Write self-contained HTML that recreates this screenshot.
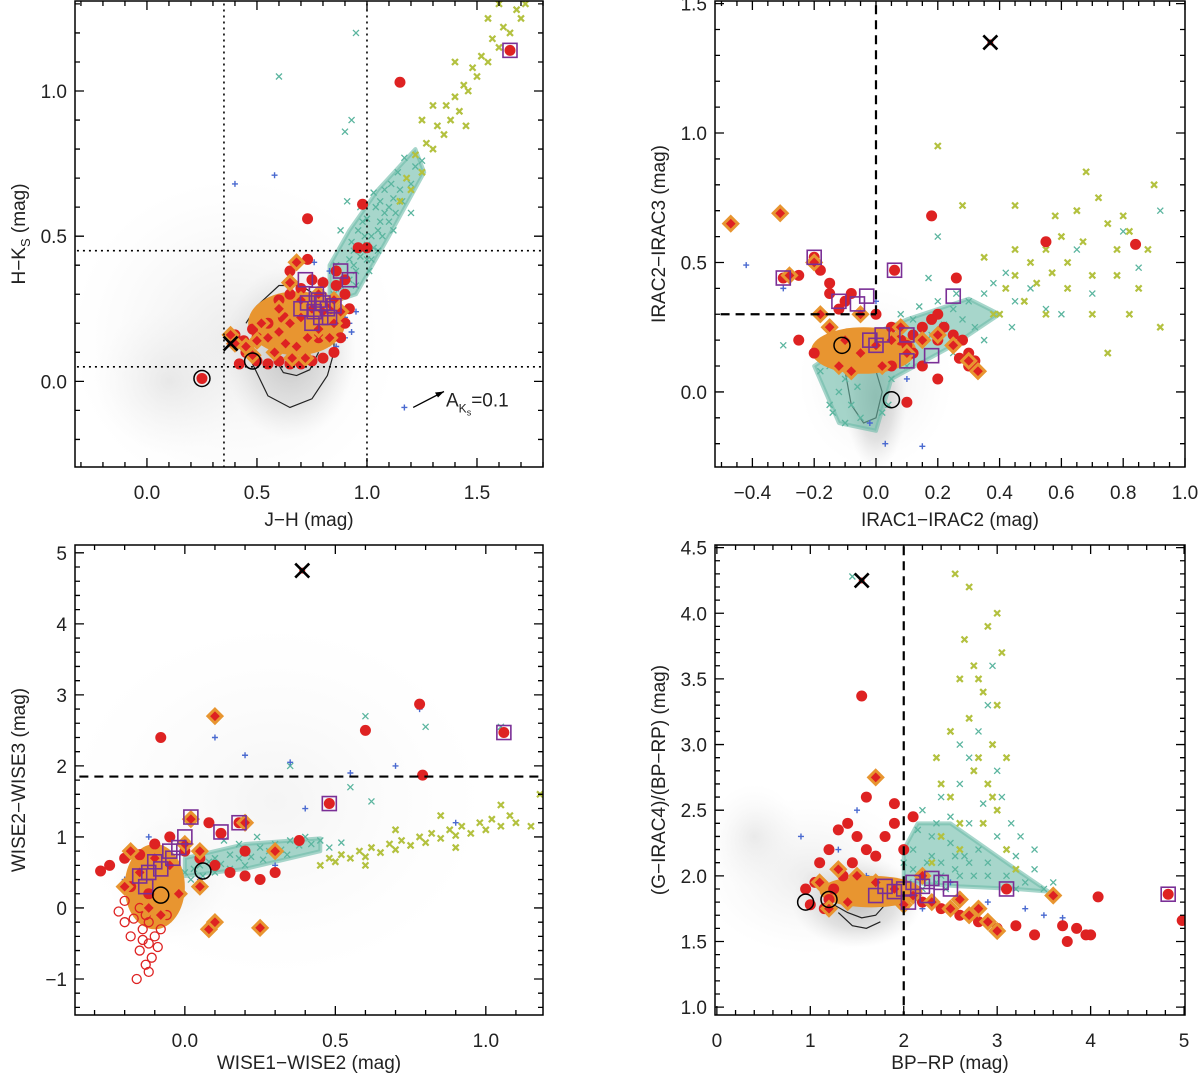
<!DOCTYPE html>
<html><head><meta charset="utf-8"><style>
html,body{margin:0;padding:0;background:#fff;}
svg{display:block;font-family:"Liberation Sans",sans-serif;}
</style></head><body>
<svg id="fig" width="1200" height="1078" viewBox="0 0 1200 1078">
<defs>
<radialGradient id="gg"><stop offset="0" stop-color="#b0b0b0" stop-opacity="0.9"/><stop offset="0.6" stop-color="#c4c4c4" stop-opacity="0.5"/><stop offset="1" stop-color="#dddddd" stop-opacity="0"/></radialGradient>
<radialGradient id="gf"><stop offset="0" stop-color="#d4d4d4" stop-opacity="0.45"/><stop offset="1" stop-color="#ececec" stop-opacity="0"/></radialGradient>
<radialGradient id="gv"><stop offset="0" stop-color="#dcdcdc" stop-opacity="0.3"/><stop offset="1" stop-color="#f0f0f0" stop-opacity="0"/></radialGradient>
</defs>
</svg>
<script>
// ---------- Panel 1 data (J-H vs H-Ks) ----------
const p1Teal=[[0.85,0.30],[0.88,0.33],[0.9,0.36],[0.92,0.35],[0.94,0.40],[0.95,0.38],[0.97,0.43],[0.98,0.45],[1.0,0.47],[1.0,0.42],[1.02,0.50],[1.03,0.46],[1.05,0.52],[1.06,0.55],[1.07,0.50],[1.08,0.58],[1.1,0.60],[1.1,0.55],[1.12,0.63],[1.13,0.58],[1.15,0.66],[1.16,0.62],[1.18,0.70],[1.2,0.68],[1.22,0.74],[1.25,0.76],[0.93,0.48],[0.96,0.52],[1.0,0.56],[1.04,0.60],[0.9,0.30],[0.95,0.33],[1.01,0.38],[0.98,0.55],[1.08,0.66],[1.14,0.72],[0.86,0.40],[0.92,0.42],[1.05,0.45],[1.11,0.68],[0.88,0.52],[0.9,0.86],[0.95,1.2],[0.6,1.05],[0.93,0.9],[1.2,0.58],[1.17,0.77],[1.03,0.65],[0.97,0.6],[0.91,0.62],[1.06,0.62],[1.12,0.52],[0.99,0.5],[1.02,0.42],[0.94,0.45]];
const p1Yg=[[1.15,0.62],[1.18,0.7],[1.2,0.66],[1.22,0.78],[1.25,0.72],[1.27,0.82],[1.3,0.8],[1.32,0.88],[1.35,0.85],[1.36,0.95],[1.38,0.9],[1.4,0.98],[1.42,0.93],[1.44,1.02],[1.46,1.0],[1.48,1.08],[1.5,1.05],[1.52,1.12],[1.55,1.1],[1.57,1.18],[1.6,1.15],[1.62,1.22],[1.65,1.2],[1.68,1.28],[1.7,1.25],[1.72,1.3],[1.3,0.95],[1.4,1.1],[1.55,1.25],[1.45,0.88],[1.25,0.9],[1.6,1.3]];
const p1Blue=[[0.85,0.28],[0.88,0.25],[0.9,0.22],[0.92,0.2],[0.87,0.32],[0.83,0.38],[0.95,0.24],[0.8,0.35],[0.9,0.15],[0.93,0.17],[0.76,0.41],[0.4,0.68],[0.58,0.71],[1.17,-0.09],[0.86,0.12],[0.84,0.18]];
const p1Red=[[0.42,0.06],[0.45,0.1],[0.5,0.07],[0.55,0.06],[0.6,0.07],[0.65,0.06],[0.7,0.06],[0.75,0.07],[0.8,0.08],[0.85,0.1],[0.88,0.15],[0.9,0.2],[0.92,0.25],[0.9,0.3],[0.86,0.33],[0.8,0.34],[0.75,0.35],[0.7,0.32],[0.65,0.3],[0.6,0.28],[0.55,0.2],[0.5,0.15],[0.48,0.18],[0.44,0.14],[0.68,0.41],[0.73,0.42],[0.65,0.38],[0.86,0.38],[0.9,0.35],[0.96,0.46],[1.0,0.46],[0.73,0.56],[0.98,0.61],[1.15,1.03],[0.4,0.16],[0.62,0.22],[0.78,0.15],[0.83,0.25],[0.25,0.01],[1.65,1.14]];
const p1Orange=[[0.45,0.12],[0.5,0.14],[0.55,0.15],[0.6,0.17],[0.65,0.2],[0.7,0.22],[0.75,0.25],[0.8,0.24],[0.85,0.2],[0.58,0.1],[0.63,0.13],[0.68,0.12],[0.73,0.15],[0.78,0.18],[0.83,0.15],[0.52,0.2],[0.6,0.25],[0.7,0.28],[0.78,0.3],[0.85,0.28],[0.4,0.13],[0.38,0.16],[0.72,0.08],[0.66,0.08],[0.88,0.24],[0.48,0.09],[0.65,0.34],[0.68,0.41]];
const p1Purple=[[0.73,0.27],[0.76,0.24],[0.79,0.22],[0.8,0.27],[0.82,0.25],[0.78,0.28],[0.75,0.2],[0.85,0.26],[0.88,0.38],[0.92,0.35],[0.77,0.3],[0.83,0.22],[0.72,0.35],[1.65,1.14],[0.7,0.25]];
const p1Circ=[[0.25,0.01],[0.48,0.07]];
const p1Cross=[[0.38,0.13]];
const p1Blob=[0.68,0.2,0.22,0.11];
const p1TealBand=[[0.83,0.27],[0.95,0.3],[1.1,0.5],[1.26,0.72],[1.22,0.8],[1.05,0.66],[0.92,0.52],[0.83,0.4]];
const p1Contour=[[0.44,0.14],[0.48,0.06],[0.55,-0.05],[0.65,-0.09],[0.75,-0.06],[0.82,0.02],[0.85,0.1],[0.85,0.2],[0.8,0.28],[0.7,0.33],[0.6,0.33],[0.5,0.26],[0.45,0.2]];
const p1Contour2=[[0.58,0.08],[0.62,0.03],[0.68,0.02],[0.74,0.04],[0.78,0.1]];
const p1Gray=[[0.65,0.1,0.3,0.3,'gg'],[0.4,0.15,0.75,0.55,'gf'],[0.1,0.0,0.35,0.25,'gf']];

// ---------- Panel 2 data (IRAC1-IRAC2 vs IRAC2-IRAC3) ----------
const p2Teal=[[-0.2,0.15],[-0.15,0.1],[-0.1,0.05],[-0.08,-0.05],[-0.05,-0.1],[-0.12,0.0],[-0.15,-0.05],[-0.18,0.08],[-0.02,0.1],[0.0,0.12],[0.05,0.15],[0.1,0.2],[0.15,0.25],[0.2,0.3],[0.25,0.32],[0.3,0.35],[0.35,0.38],[0.4,0.3],[0.45,0.35],[0.5,0.4],[0.55,0.32],[0.12,0.28],[0.18,0.22],[0.22,0.26],[0.28,0.28],[0.32,0.25],[0.08,0.3],[0.14,0.33],[0.2,0.35],[0.26,0.38],[0.38,0.42],[0.44,0.25],[0.6,0.3],[0.05,0.05],[0.1,0.1],[-0.25,0.2],[-0.3,0.18],[0.02,-0.08],[0.7,0.38],[0.65,0.55],[0.8,0.62],[0.85,0.48],[0.92,0.7],[0.2,0.6],[0.25,0.15],[0.35,0.2],[0.17,0.44],[-0.06,0.02],[0.07,0.22],[0.42,0.46],[-0.1,-0.12],[-0.14,-0.08],[0.04,-0.05]];
const p2Yg=[[0.4,0.3],[0.42,0.4],[0.45,0.45],[0.48,0.35],[0.5,0.5],[0.52,0.42],[0.55,0.55],[0.57,0.46],[0.6,0.6],[0.62,0.5],[0.65,0.7],[0.67,0.58],[0.7,0.45],[0.72,0.75],[0.75,0.65],[0.78,0.55],[0.8,0.68],[0.82,0.62],[0.85,0.4],[0.88,0.55],[0.9,0.8],[0.92,0.25],[0.45,0.55],[0.55,0.3],[0.62,0.4],[0.7,0.3],[0.75,0.15],[0.2,0.95],[0.28,0.72],[0.45,0.72],[0.38,0.3],[0.35,0.52],[0.58,0.68],[0.68,0.85],[0.78,0.45],[0.82,0.3]];
const p2Blue=[[-0.42,0.49],[-0.3,0.4],[-0.02,-0.12],[0.03,-0.2],[0.15,-0.21],[0.1,0.05],[0.0,0.35],[-0.05,0.1]];
const p2Red=[[-0.3,0.44],[-0.25,0.45],[-0.2,0.52],[-0.18,0.47],[-0.15,0.38],[-0.12,0.32],[-0.1,0.35],[-0.08,0.38],[-0.05,0.3],[0.0,0.3],[0.05,0.25],[0.08,0.2],[0.1,0.18],[0.12,0.22],[0.15,0.25],[0.18,0.28],[0.2,0.3],[0.22,0.25],[0.25,0.22],[0.28,0.2],[0.3,0.15],[0.32,0.12],[0.12,0.15],[0.15,0.1],[0.05,0.1],[0.18,0.68],[0.26,0.44],[0.55,0.58],[0.84,0.57],[-0.47,0.65],[-0.31,0.69],[0.06,0.47],[-0.25,0.2],[-0.2,0.15],[0.1,-0.04],[0.2,0.2],[0.27,0.13],[0.3,0.1],[-0.15,0.42],[0.2,0.05]];
const p2Orange=[[-0.47,0.65],[-0.31,0.69],[-0.28,0.45],[-0.2,0.5],[-0.15,0.25],[-0.1,0.2],[-0.05,0.15],[0.0,0.18],[0.05,0.2],[0.1,0.15],[0.15,0.2],[0.2,0.22],[0.25,0.18],[0.3,0.12],[-0.12,0.1],[-0.08,0.08],[0.02,0.1],[0.08,0.25],[-0.18,0.3],[-0.05,0.3],[0.33,0.08]];
const p2Purple=[[-0.3,0.44],[-0.2,0.52],[-0.12,0.35],[-0.06,0.34],[-0.03,0.37],[0.06,0.47],[-0.02,0.2],[0.0,0.18],[0.02,0.22],[0.1,0.22],[0.1,0.12],[0.18,0.14],[0.25,0.37]];
const p2Circ=[[-0.11,0.18],[0.05,-0.03]];
const p2Cross=[[0.37,1.35]];
const p2Blob=[-0.04,0.16,0.17,0.09];
const p2TealBand=[[-0.2,0.1],[-0.12,-0.12],[0.0,-0.15],[0.05,0.05],[0.25,0.18],[0.4,0.3],[0.3,0.36],[0.1,0.28],[-0.1,0.18]];
const p2Contour=[[-0.1,0.08],[-0.08,-0.05],[-0.04,-0.12],[0.0,-0.1],[0.02,0.0],[0.0,0.08]];
const p2Contour2=[];
const p2Gray=[[0.0,-0.02,0.1,0.28,'gg'],[0.0,0.05,0.25,0.35,'gf']];

// ---------- Panel 3 data (WISE1-WISE2 vs WISE2-WISE3) ----------
const p3Teal=[[0.0,0.5],[0.03,0.55],[0.05,0.6],[0.08,0.65],[0.1,0.7],[0.12,0.62],[0.15,0.75],[0.18,0.7],[0.2,0.8],[0.22,0.72],[0.25,0.85],[0.28,0.8],[0.3,0.9],[0.32,0.82],[0.35,0.95],[0.38,0.88],[0.4,1.0],[0.42,0.9],[0.45,0.95],[0.48,0.85],[0.52,0.92],[0.02,0.4],[0.06,0.45],[0.1,0.5],[0.15,0.55],[0.2,0.6],[0.26,0.68],[0.34,0.75],[0.18,0.9],[0.24,1.0],[0.6,2.7],[0.8,2.55],[1.05,2.55],[0.35,2.0],[0.55,1.7],[0.62,1.5],[0.13,0.95],[0.05,0.8]];
const p3Yg=[[0.45,0.6],[0.48,0.7],[0.5,0.65],[0.52,0.75],[0.55,0.7],[0.58,0.8],[0.6,0.72],[0.62,0.85],[0.65,0.78],[0.68,0.9],[0.7,0.82],[0.72,0.95],[0.75,0.88],[0.78,1.0],[0.8,0.92],[0.82,1.05],[0.85,0.98],[0.88,1.1],[0.9,1.02],[0.92,1.15],[0.95,1.05],[0.98,1.2],[1.0,1.1],[1.02,1.25],[1.05,1.15],[1.08,1.3],[1.1,1.2],[1.15,1.15],[1.18,1.6],[1.05,1.45],[0.85,1.3],[0.7,1.1],[0.6,0.6],[0.9,0.85]];
const p3Blue=[[-0.2,0.4],[-0.12,1.0],[0.05,0.4],[0.35,2.05],[0.55,1.9],[0.7,2.0],[0.78,2.8],[0.2,2.15],[0.1,2.4],[0.4,1.4],[0.9,1.2],[0.3,0.6]];
const p3Red=[[-0.28,0.52],[-0.25,0.6],[-0.2,0.7],[-0.15,0.75],[-0.1,0.9],[-0.05,1.0],[0.0,0.8],[0.05,0.7],[0.1,0.6],[0.15,0.5],[0.2,0.45],[0.25,0.4],[0.3,0.5],[-0.18,0.3],[-0.12,0.2],[-0.08,2.4],[0.08,1.2],[0.12,1.05],[0.18,1.2],[0.38,0.95],[0.48,1.47],[0.6,2.5],[0.78,2.87],[0.79,1.87],[1.06,2.47],[0.2,0.8],[0.1,2.7],[0.02,1.25]];
const p3RedOpen=[[-0.15,0.0],[-0.13,-0.1],[-0.12,-0.2],[-0.14,-0.3],[-0.1,-0.4],[-0.12,-0.5],[-0.15,-0.6],[-0.11,-0.7],[-0.13,-0.8],[-0.12,-0.9],[-0.16,-1.0],[-0.18,-0.4],[-0.2,-0.2],[-0.08,-0.3],[-0.06,-0.1],[-0.2,0.1],[-0.22,-0.05],[-0.17,-0.15],[-0.09,-0.55],[-0.14,-0.45]];
const p3Orange=[[-0.2,0.3],[-0.15,0.5],[-0.1,0.7],[-0.05,0.6],[0.0,0.9],[0.02,1.25],[0.1,2.7],[0.2,1.2],[0.05,0.3],[-0.12,0.0],[-0.08,-0.1],[0.08,-0.3],[0.25,-0.28],[0.1,-0.2],[0.3,0.8],[0.05,0.8],[-0.18,0.8],[-0.02,0.2]];
const p3Purple=[[-0.13,0.3],[-0.12,0.5],[-0.1,0.65],[-0.05,0.8],[-0.02,0.85],[0.0,1.0],[0.02,1.28],[0.12,1.07],[0.18,1.2],[-0.08,0.55],[-0.04,0.7],[0.48,1.47],[1.06,2.47],[-0.15,0.45]];
const p3Circ=[[-0.08,0.18],[0.06,0.52]];
const p3Cross=[[0.39,4.75]];
const p3Blob=[-0.1,0.3,0.1,0.6];
const p3TealBand=[[0.0,0.45],[0.2,0.55],[0.45,0.8],[0.45,0.98],[0.2,0.9],[0.0,0.7]];
const p3Contour=[];
const p3Contour2=[];
const p3Gray=[[-0.05,0.4,0.2,0.9,'gf'],[0.3,1.5,0.7,2.5,'gv']];

// ---------- Panel 4 data (BP-RP vs (G-IRAC4)/(BP-RP)) ----------
const p4Teal=[[2.0,2.1],[2.1,2.2],[2.2,2.0],[2.3,2.3],[2.4,2.1],[2.5,2.25],[2.6,2.0],[2.7,2.4],[2.8,2.2],[2.9,2.1],[3.0,2.3],[3.1,2.0],[3.2,2.15],[3.3,1.95],[3.4,2.05],[3.5,1.9],[2.2,2.5],[2.4,2.6],[2.6,2.7],[2.7,2.9],[2.8,3.1],[2.9,3.3],[2.95,3.6],[2.5,2.45],[2.3,2.15],[2.15,2.35],[2.05,1.95],[2.45,1.9],[2.65,2.15],[2.85,2.55],[3.05,2.6],[3.15,2.4],[3.25,2.3],[3.4,2.2],[3.6,1.95],[2.75,2.0],[2.55,2.05],[2.35,2.4],[3.0,2.8],[2.2,1.9],[1.45,4.28],[2.6,3.0],[2.1,2.05],[2.25,2.1],[2.4,2.0],[2.7,2.1],[2.9,2.0],[3.2,1.9],[2.35,1.95],[2.55,2.15]];
const p4Yg=[[2.3,2.1],[2.4,2.3],[2.5,2.6],[2.55,4.3],[2.6,2.2],[2.65,3.8],[2.7,3.2],[2.75,2.8],[2.8,3.5],[2.85,2.4],[2.9,3.9],[2.95,3.0],[3.0,3.3],[3.0,2.5],[3.05,3.7],[3.1,2.2],[2.8,2.9],[2.7,4.2],[2.6,3.5],[2.9,2.7],[3.1,2.9],[2.5,3.1],[2.4,2.7],[2.75,3.6],[2.85,3.4],[3.0,4.0],[2.95,2.6],[2.35,2.9],[3.2,2.05],[2.6,2.4]];
const p4Blue=[[1.3,2.2],[1.6,2.0],[2.2,1.75],[2.5,1.95],[2.9,1.8],[3.3,1.75],[3.5,1.7],[0.9,2.3],[1.5,2.5],[3.7,1.68]];
const p4Red=[[0.95,1.9],[1.1,2.1],[1.2,2.2],[1.3,2.35],[1.4,2.4],[1.5,2.3],[1.6,2.2],[1.7,2.15],[1.8,2.3],[1.9,2.4],[2.0,2.2],[1.05,1.95],[1.15,1.75],[1.25,1.9],[1.35,2.0],[1.45,2.1],[2.2,1.8],[2.4,1.75],[2.6,1.7],[2.8,1.65],[3.0,1.6],[3.2,1.62],[3.4,1.55],[1.55,3.37],[1.6,2.6],[1.9,2.55],[2.1,2.45],[3.7,1.62],[3.75,1.5],[3.85,1.6],[3.95,1.55],[4.0,1.55],[4.08,1.84],[3.6,1.85],[4.98,1.66],[1.7,2.75],[1.0,1.78],[1.2,1.82],[3.1,1.9],[4.83,1.86]];
const p4Orange=[[1.1,1.95],[1.3,2.05],[1.5,2.0],[1.7,1.95],[1.9,1.9],[2.1,1.85],[2.3,1.8],[2.5,1.75],[2.7,1.7],[2.9,1.65],[3.0,1.58],[1.7,2.75],[3.6,1.85],[1.2,1.75],[1.4,1.8],[2.0,1.78],[2.2,2.0],[2.6,1.82],[2.8,1.75]];
const p4Purple=[[1.7,1.85],[1.9,1.88],[2.0,1.9],[2.1,1.95],[2.2,1.92],[2.3,1.98],[2.4,1.95],[2.5,1.9],[2.05,1.8],[2.25,1.85],[3.1,1.9],[4.83,1.86],[1.8,1.92]];
const p4Circ=[[0.95,1.8],[1.2,1.82]];
const p4Cross=[[1.55,4.25]];
const p4Blob=[1.65,1.88,0.55,0.12];
const p4TealBand=[[2.0,1.95],[2.6,1.92],[3.2,1.9],[3.55,1.88],[3.2,2.05],[2.8,2.25],[2.5,2.4],[2.15,2.4],[2.0,2.2]];
const p4Contour=[[1.25,1.78],[1.4,1.72],[1.55,1.68],[1.7,1.7],[1.8,1.78]];
const p4Contour2=[[1.3,1.72],[1.45,1.62],[1.6,1.6],[1.75,1.65]];
const p4Gray=[[1.5,1.8,0.7,0.35,'gg'],[1.0,2.0,1.2,0.6,'gf'],[0.4,2.3,0.5,0.4,'gf']];

const NS='http://www.w3.org/2000/svg';
const svg=document.getElementById('fig');
function mk(tag,attrs,parent){const e=document.createElementNS(NS,tag);for(const k in attrs)e.setAttribute(k,attrs[k]);(parent||svg).appendChild(e);return e;}

function panel(cfg,d){
  const g=mk('g',{});
  
  
  const X=v=>cfg.L+(v-cfg.x0)/(cfg.x1-cfg.x0)*(cfg.R-cfg.L);
  const Y=v=>cfg.B-(v-cfg.y0)/(cfg.y1-cfg.y0)*(cfg.B-cfg.T);
  const clip='clip'+cfg.name;
  const cp=mk('clipPath',{id:clip},g);mk('rect',{x:cfg.L,y:cfg.T,width:cfg.R-cfg.L,height:cfg.B-cfg.T},cp);
  const pg=mk('g',{'clip-path':'url(#'+clip+')'},g);
  d.gray.forEach(c=>{const e=mk('ellipse',{cx:X(c[0]),cy:Y(c[1]),rx:Math.abs(X(c[0]+c[2])-X(c[0])),ry:Math.abs(Y(c[1]+c[3])-Y(c[1])),fill:'url(#'+c[4]+')'},pg);
    
    });
  [d.contour,d.contour2].forEach(ct=>{if(!ct.length)return;const p=mk('polyline',{points:ct.map(q=>X(q[0])+','+Y(q[1])).join(' '),fill:'none',stroke:'#222','stroke-width':1.2},pg);
    
    });
  const tb=mk('polygon',{points:d.band.map(q=>X(q[0])+','+Y(q[1])).join(' '),fill:'#6cbba8','fill-opacity':0.6,stroke:'#6cbba8','stroke-width':4,'stroke-linejoin':'round','stroke-opacity':0.6},pg);
  
  
  d.teal.forEach(q=>{const x=X(q[0]),y=Y(q[1]);const p=mk('path',{d:`M${x-3},${y-3}L${x+3},${y+3}M${x-3},${y+3}L${x+3},${y-3}`,stroke:'#5bb59f','stroke-width':1.3},pg);
    
    });
  d.yg.forEach(q=>{const x=X(q[0]),y=Y(q[1]);const p=mk('path',{d:`M${x-3},${y-3}L${x+3},${y+3}M${x-3},${y+3}L${x+3},${y-3}`,stroke:'#b3c13f','stroke-width':2.2},pg);
    
    });
  d.blue.forEach(q=>{const x=X(q[0]),y=Y(q[1]);const p=mk('path',{d:`M${x-3},${y}L${x+3},${y}M${x},${y-3}L${x},${y+3}`,stroke:'#4a6ad0','stroke-width':1.4},pg);
    
    });
  const b=d.blob;const be=mk('ellipse',{cx:X(b[0]),cy:Y(b[1]),rx:X(b[0]+b[2])-X(b[0]),ry:Y(b[1])-Y(b[1]+b[3]),fill:'#e89530'},pg);
  
  
  d.red.forEach(q=>{const c=mk('circle',{cx:X(q[0]),cy:Y(q[1]),r:5.5,fill:'#de2222'},pg);
    
    });
  (d.redOpen||[]).forEach(q=>{const c=mk('circle',{cx:X(q[0]),cy:Y(q[1]),r:4.5,fill:'none',stroke:'#de2222','stroke-width':1.3},pg);
    
    });
  d.orange.forEach(q=>{const x=X(q[0]),y=Y(q[1]);const p=mk('path',{d:`M${x},${y-7}L${x+7},${y}L${x},${y+7}L${x-7},${y}Z`,fill:'#de2222',stroke:'#e89530','stroke-width':3},pg);
    
    });
  d.purple.forEach(q=>{const r=mk('rect',{x:X(q[0])-7,y:Y(q[1])-7,width:14,height:14,fill:'none',stroke:'#7a2f96','stroke-width':1.6},pg);
    
    });
  d.circ.forEach(q=>{const c=mk('circle',{cx:X(q[0]),cy:Y(q[1]),r:8,fill:'none',stroke:'#000','stroke-width':1.5},pg);
    
    });
  d.cross.forEach(q=>{const x=X(q[0]),y=Y(q[1]);mk('circle',{cx:x,cy:y,r:3,fill:'#de2222'},pg);const p=mk('path',{d:`M${x-7},${y-7}L${x+7},${y+7}M${x-7},${y+7}L${x+7},${y-7}`,stroke:'#000','stroke-width':2.6},pg);
    
    });
  cfg.lines.forEach(l=>{const a={stroke:'#000','stroke-width':l.dash==='dot'?1.6:2.2,'stroke-dasharray':l.dash==='dot'?'2,4':'9,6'};
    const x1=l.x!==undefined?X(l.x):X(l.xa),x2=l.x!==undefined?X(l.x):X(l.xb);
    const y1=l.y!==undefined?Y(l.y):Y(l.ya),y2=l.y!==undefined?Y(l.y):Y(l.yb);
    const ln=mk('line',Object.assign({x1,y1,x2,y2},a),pg);
    
    });
  const fr=mk('rect',{x:cfg.L,y:cfg.T,width:cfg.R-cfg.L,height:cfg.B-cfg.T,fill:'none',stroke:'#000','stroke-width':1.5},g);
  
  
  let tp='';
  const eps=1e-9;
  for(let v=Math.ceil(cfg.x0/cfg.xmin-eps)*cfg.xmin;v<=cfg.x1+eps;v+=cfg.xmin){const x=X(v);const maj=Math.abs(v/cfg.xmaj-Math.round(v/cfg.xmaj))<1e-6;const len=maj?9:5;tp+=`M${x},${cfg.B}v${-len}M${x},${cfg.T}v${len}`;}
  for(let v=Math.ceil(cfg.y0/cfg.ymin-eps)*cfg.ymin;v<=cfg.y1+eps;v+=cfg.ymin){const y=Y(v);const maj=Math.abs(v/cfg.ymaj-Math.round(v/cfg.ymaj))<1e-6;const len=maj?9:5;tp+=`M${cfg.L},${y}h${len}M${cfg.R},${y}h${-len}`;}
  mk('path',{d:tp,stroke:'#000','stroke-width':1.3,fill:'none'},g);
  cfg.xlabels.forEach(v=>{const t=mk('text',{x:X(v),y:cfg.B+32,'text-anchor':'middle','font-size':19,fill:'#222'},g);t.textContent=(v<0?'\u2212':'')+Math.abs(v).toFixed(cfg.xdec);
    
    });
  cfg.ylabels.forEach(v=>{const t=mk('text',{x:cfg.L-8,y:Y(v)+7,'text-anchor':'end','font-size':19,fill:'#222'},g);t.textContent=(v<0?'\u2212':'')+Math.abs(v).toFixed(cfg.ydec);
    
    });
  const xt=mk('text',{x:(cfg.L+cfg.R)/2,y:cfg.B+cfg.tOff,'text-anchor':'middle','font-size':19,fill:'#222'},g);xt.innerHTML=cfg.xtitle;
  
  
  const yt=mk('text',{x:0,y:0,'text-anchor':'middle','font-size':19,fill:'#222',transform:`translate(${cfg.L-50},${(cfg.T+cfg.B)/2}) rotate(-90)`},g);yt.innerHTML=cfg.ytitle;
  
  
  return {X,Y,g};
}

const P1=panel({name:'panel-jh-hk',L:75,R:543,T:1,B:467,tOff:59,x0:-0.327,x1:1.8,y0:-0.295,y1:1.31,xmaj:0.5,xmin:0.1,ymaj:0.5,ymin:0.1,xlabels:[0,0.5,1.0,1.5],ylabels:[0,0.5,1.0],xdec:1,ydec:1,
  xtitle:'J\u2212H (mag)',ytitle:'H\u2212K<tspan font-size="13" dy="5">S</tspan><tspan dy="-5"> (mag)</tspan>',
  lines:[{x:0.35,ya:-0.4,yb:1.4,dash:'dot'},{x:1.0,ya:-0.4,yb:1.4,dash:'dot'},{y:0.45,xa:-0.4,xb:1.9,dash:'dot'},{y:0.05,xa:-0.4,xb:1.9,dash:'dot'}]},
  {teal:p1Teal,yg:p1Yg,blue:p1Blue,red:p1Red,orange:p1Orange,purple:p1Purple,circ:p1Circ,cross:p1Cross,blob:p1Blob,band:p1TealBand,contour:p1Contour,contour2:p1Contour2,gray:p1Gray});
(function(){const x1=P1.X(1.21),y1=P1.Y(-0.09),x2=P1.X(1.35),y2=P1.Y(-0.035);
 const a=mk('line',{x1,y1,x2,y2,stroke:'#000','stroke-width':1.3});
 
 
 mk('path',{d:`M${x2},${y2}l-9,1l3,5z`,fill:'#000'});
 const t=mk('text',{x:x2+2,y:y2+15,'font-size':19,fill:'#222'});
 t.innerHTML='A<tspan font-size="12" dy="6">K<tspan font-size="9" dy="3">s</tspan></tspan><tspan dy="-9">=0.1</tspan>';
 
 })();

panel({name:'panel-irac',L:715,R:1185,T:1,B:467,tOff:59,x0:-0.521,x1:1.0,y0:-0.29,y1:1.51,xmaj:0.2,xmin:0.05,ymaj:0.5,ymin:0.1,xlabels:[-0.4,-0.2,0,0.2,0.4,0.6,0.8,1.0],ylabels:[0,0.5,1.0,1.5],xdec:1,ydec:1,
  xtitle:'IRAC1\u2212IRAC2 (mag)',ytitle:'IRAC2\u2212IRAC3 (mag)',
  lines:[{x:0,ya:0.3,yb:1.6,dash:'dash'},{y:0.3,xa:-0.6,xb:0,dash:'dash'}]},
  {teal:p2Teal,yg:p2Yg,blue:p2Blue,red:p2Red,orange:p2Orange,purple:p2Purple,circ:p2Circ,cross:p2Cross,blob:p2Blob,band:p2TealBand,contour:p2Contour,contour2:p2Contour2,gray:p2Gray});

panel({name:'panel-wise',L:75,R:543,T:545,B:1015,tOff:54,x0:-0.365,x1:1.19,y0:-1.507,y1:5.11,xmaj:0.5,xmin:0.1,ymaj:1,ymin:0.2,xlabels:[0,0.5,1.0],ylabels:[-1,0,1,2,3,4,5],xdec:1,ydec:0,
  xtitle:'WISE1\u2212WISE2 (mag)',ytitle:'WISE2\u2212WISE3 (mag)',
  lines:[{y:1.85,xa:-0.5,xb:1.3,dash:'dash'}]},
  {teal:p3Teal,yg:p3Yg,blue:p3Blue,red:p3Red,redOpen:p3RedOpen,orange:p3Orange,purple:p3Purple,circ:p3Circ,cross:p3Cross,blob:p3Blob,band:p3TealBand,contour:p3Contour,contour2:p3Contour2,gray:p3Gray});

panel({name:'panel-gaia',L:715,R:1185,T:545,B:1015,tOff:54,x0:-0.02,x1:5.01,y0:0.94,y1:4.52,xmaj:1,xmin:0.2,ymaj:0.5,ymin:0.1,xlabels:[0,1,2,3,4,5],ylabels:[1.0,1.5,2.0,2.5,3.0,3.5,4.0,4.5],xdec:0,ydec:1,
  xtitle:'BP\u2212RP (mag)',ytitle:'(G\u2212IRAC4)/(BP\u2212RP) (mag)',
  lines:[{x:2,ya:0.9,yb:4.6,dash:'dash'}]},
  {teal:p4Teal,yg:p4Yg,blue:p4Blue,red:p4Red,orange:p4Orange,purple:p4Purple,circ:p4Circ,cross:p4Cross,blob:p4Blob,band:p4TealBand,contour:p4Contour,contour2:p4Contour2,gray:p4Gray});
</script>
</body></html>
